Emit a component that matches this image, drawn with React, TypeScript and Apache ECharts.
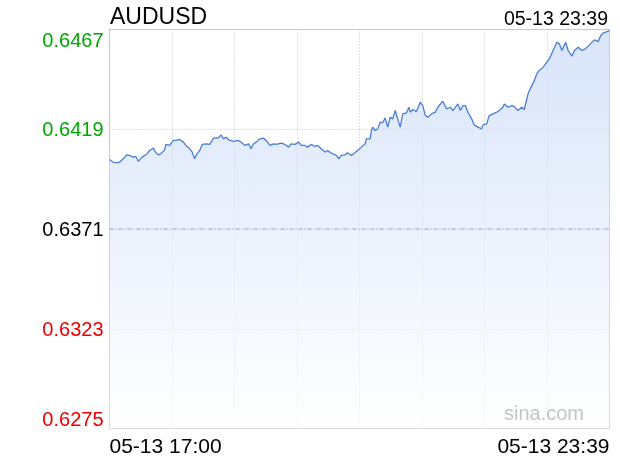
import React, { useEffect, useRef } from "react";
import * as echarts from "echarts";

const symbol = "AUDUSD";
const lastTime = "05-13 23:39";
const xTickLabels = ["05-13 17:00", "05-13 23:39"];
const watermark = "sina.com";
const prevClose = 0.6371;
const yMin = 0.6275;
const yMax = 0.6467;
const yStep = 0.0048;
const xSpanMinutes = 399;

// minutes since 17:00
const times = [
  0, 3, 6, 8, 11, 14, 16, 19, 21, 23, 26, 28, 30, 32, 35, 37, 39, 41, 44, 45, 48, 51, 53, 56, 59, 61, 64, 66, 68, 69, 72, 74, 77, 80, 83, 87, 89, 91, 93, 96, 99,
  103, 105, 108, 111, 113, 115, 117, 120, 123, 125, 128, 131, 133, 137, 140, 143, 145, 148, 151, 153, 156, 158, 161, 164, 166, 169, 172, 174, 177, 181, 183, 185, 188, 190, 193, 196, 198, 201, 204, 205, 208,
  209, 210, 212, 214, 216, 218, 220, 222, 224, 226, 228, 230, 232, 234, 237, 239, 240, 242, 245, 248, 250, 252, 254, 257, 260, 262, 266, 269, 272, 274, 278, 280, 282, 284, 286, 289, 291, 294, 297, 298,
  301, 303, 306, 309, 311, 314, 315, 318, 321, 323, 326, 329, 331, 334, 337, 339, 341, 343, 346, 349, 351, 354, 357, 359, 361, 364, 366, 369, 371, 374, 377, 379, 382, 385, 387, 390, 392, 394, 397, 399,
];

const prices = [
  0.64044, 0.64031, 0.64029, 0.64031, 0.64048, 0.64067, 0.64064, 0.64056, 0.64059, 0.64036, 0.64056, 0.64064, 0.64072, 0.64088, 0.64099, 0.64077, 0.64067, 0.64072, 0.64091, 0.64117, 0.64112, 0.64136, 0.64136, 0.64141, 0.64128, 0.64112, 0.64096, 0.6408, 0.64048, 0.64064, 0.64088, 0.64117, 0.6412, 0.64117, 0.64147, 0.64149, 0.64163, 0.64144, 0.64152, 0.64136, 0.64132,
  0.64136, 0.64128, 0.64112, 0.6412, 0.64096, 0.6412, 0.64128, 0.64144, 0.64147, 0.64136, 0.64112, 0.6412, 0.64117, 0.64123, 0.64117, 0.64104, 0.6412, 0.64117, 0.64128, 0.64112, 0.64112, 0.64104, 0.64117, 0.64107, 0.64112, 0.64096, 0.6408, 0.64088, 0.64075, 0.64064, 0.64048, 0.64064, 0.64067, 0.64077, 0.64064, 0.64078, 0.64088, 0.64104, 0.6412, 0.64144, 0.64144,
  0.64184, 0.642, 0.64184, 0.64192, 0.64224, 0.64221, 0.64245, 0.642, 0.64248, 0.6424, 0.6428, 0.6424, 0.642, 0.64264, 0.64269, 0.64296, 0.64272, 0.64285, 0.64275, 0.6432, 0.64304, 0.64256, 0.64248, 0.64264, 0.64272, 0.64296, 0.64325, 0.64288, 0.64296, 0.6428, 0.64312, 0.6428, 0.64304, 0.64304, 0.64272, 0.6424, 0.64211, 0.642, 0.64192, 0.64211,
  0.64216, 0.64256, 0.64264, 0.64272, 0.6428, 0.64296, 0.64312, 0.64296, 0.64304, 0.64299, 0.6428, 0.64296, 0.64285, 0.64361, 0.644, 0.64425, 0.64457, 0.64473, 0.64489, 0.64513, 0.64529, 0.64569, 0.64609, 0.64601, 0.64569, 0.64609, 0.64569, 0.64542, 0.64569, 0.64585, 0.64569, 0.64574, 0.6459, 0.64609, 0.6462, 0.64612, 0.64641, 0.64654, 0.6466, 0.64665,
];

const FONT = "'Liberation Sans', Arial, Helvetica, sans-serif";

export default function App() {
  const ref = useRef<HTMLDivElement>(null);
  useEffect(() => {
    if (!ref.current) return;
    const chart = echarts.init(ref.current, undefined, { renderer: "svg" });
    const n = Math.min(times.length, prices.length);
    const data: [number, number][] = [];
    for (let i = 0; i < n; i++) data.push([times[i], prices[i]]);
    const refLine: [number, number][] = [
      [0, prevClose],
      [xSpanMinutes, prevClose],
    ];

    chart.setOption({
      animation: false,
      textStyle: { fontFamily: FONT },
      title: [
        {
          text: symbol,
          left: 110,
          top: 4,
          padding: 0,
          textStyle: { fontFamily: FONT, fontSize: 23, fontWeight: "normal", color: "#000" },
        },
        {
          text: lastTime,
          right: 12,
          top: 8,
          padding: 0,
          textStyle: { fontFamily: FONT, fontSize: 19.5, fontWeight: "normal", color: "#000" },
        },
      ],
      graphic: [
        {
          type: "text",
          right: 36,
          bottom: 37,
          z: 10,
          style: { text: watermark, font: `20px ${FONT}`, fill: "#c4c4c4" },
        },
      ],
      grid: {
        left: 109.5,
        right: 10.5,
        top: 29.5,
        bottom: 31.5,
        show: true,
        borderColor: "#cccccc",
        borderWidth: 1,
        backgroundColor: "transparent",
      },
      xAxis: {
        type: "value",
        min: 0,
        max: xSpanMinutes,
        interval: xSpanMinutes / 8,
        axisLine: { show: false },
        axisTick: { show: false },
        splitLine: { show: true, lineStyle: { color: "#c2c2c2", type: [1, 2], width: 1 } },
        axisLabel: {
          show: true,
          fontFamily: FONT,
          fontSize: 21,
          color: "#000",
          margin: 6,
          showMinLabel: true,
          showMaxLabel: true,
          alignMinLabel: "left",
          alignMaxLabel: "right",
          formatter: (v: number) => (v === 0 ? xTickLabels[0] : Math.abs(v - xSpanMinutes) < 0.01 ? xTickLabels[1] : ""),
        },
      },
      yAxis: {
        type: "value",
        min: yMin,
        max: yMax,
        interval: yStep,
        axisLine: { show: false },
        axisTick: { show: false },
        splitLine: { show: true, lineStyle: { color: "#c2c2c2", type: [1, 2], width: 1 } },
        axisLabel: {
          fontFamily: FONT,
          fontSize: 20,
          margin: 6,
          showMinLabel: true,
          showMaxLabel: true,
          verticalAlignMinLabel: "bottom",
          verticalAlignMaxLabel: "top",
          formatter: (v: number) => v.toFixed(4),
          color: (v: any) => {
            const x = Number(v);
            if (x > prevClose + 1e-6) return "#00a800";
            if (x < prevClose - 1e-6) return "#ee0000";
            return "#000000";
          },
        },
      },
      series: [
        {
          type: "line",
          data,
          showSymbol: false,
          symbol: "none",
          z: 3,
          lineStyle: { color: "#4a7ed6", width: 1.3 },
          areaStyle: {
            color: new echarts.graphic.LinearGradient(0, 0, 0, 1, [
              { offset: 0, color: "rgba(200,217,247,1)" },
              { offset: 1, color: "rgba(255,255,255,1)" },
            ]),
          },
        },
        {
          type: "line",
          data: refLine,
          showSymbol: false,
          symbol: "none",
          silent: true,
          z: 4,
          lineStyle: { color: "#9c9cc4", type: [4, 2, 1, 2], width: 1 },
        },
      ],
    });
    return () => chart.dispose();
  }, []);
  return <div ref={ref} style={{ position: "fixed", left: 0, top: 0, width: 620, height: 460 }} />;
}
